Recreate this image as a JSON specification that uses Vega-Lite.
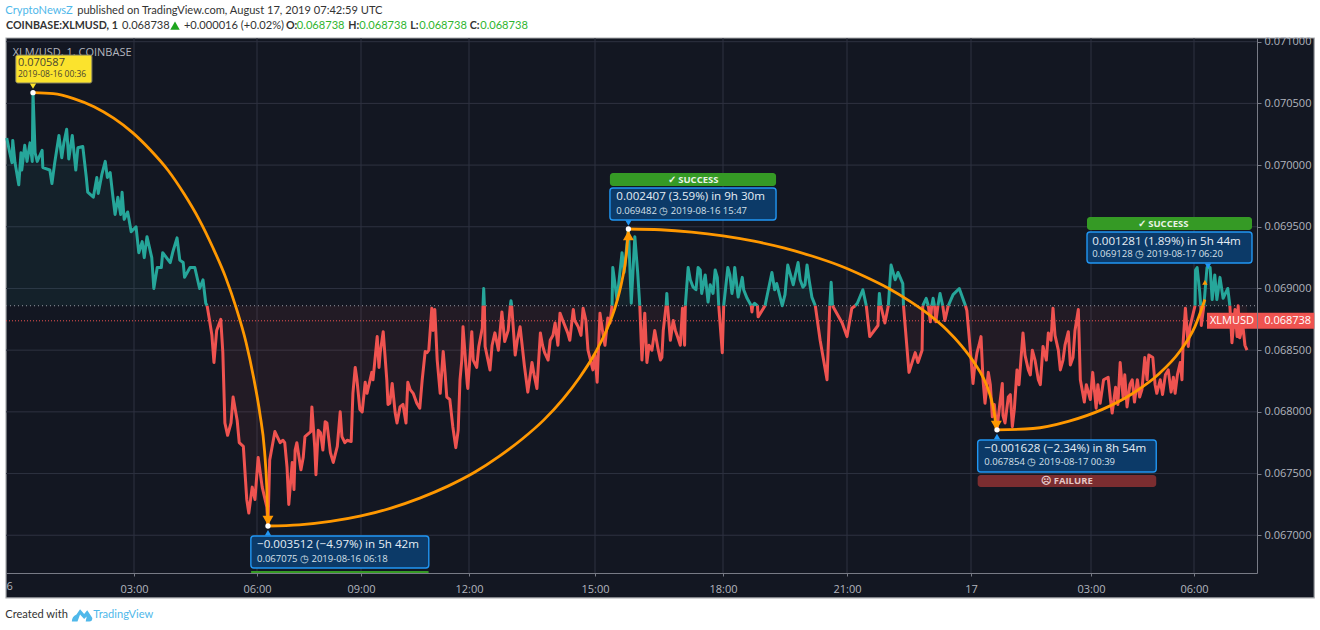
{
  "$schema": "https://vega.github.io/schema/vega-lite/v6.json",
  "width": 1251,
  "height": 535,
  "autosize": {"type": "none"},
  "padding": {"left": 6, "top": 38, "right": 63, "bottom": 57},
  "background": "#ffffff",
  "config": {"font": "Open Sans", "view": {"stroke": null}},
  "datasets": {
    "rects": [
      {"kind": "panel", "m": 0, "m2": 2023, "p": 0.066492, "p2": 0.07103},
      {"kind": "yellow", "m": 13, "m2": 120, "p": 0.070665, "p2": 0.070892},
      {"kind": "blue", "m": 351, "m2": 653, "p": 0.066735, "p2": 0.066994},
      {"kind": "blue", "m": 921, "m2": 1157, "p": 0.069555, "p2": 0.069814},
      {"kind": "blue", "m": 1450, "m2": 1734, "p": 0.067513, "p2": 0.067772},
      {"kind": "blue", "m": 1614, "m2": 1911, "p": 0.069207, "p2": 0.069458},
      {"kind": "green", "m": 351, "m2": 653, "p": 0.066694, "p2": 0.066711},
      {"kind": "green", "m": 921, "m2": 1157, "p": 0.069831, "p2": 0.069936},
      {"kind": "green", "m": 1614, "m2": 1911, "p": 0.069474, "p2": 0.069579},
      {"kind": "fail", "m": 1450, "m2": 1734, "p": 0.067391, "p2": 0.067489},
      {"kind": "tag", "m": 1825, "m2": 2023, "p": 0.068673, "p2": 0.068803}
    ],
    "gridx": [
      {"m": 180, "p": 0.066694, "p2": 0.07103}, {"m": 360, "p": 0.066694, "p2": 0.07103},
      {"m": 540, "p": 0.066694, "p2": 0.07103}, {"m": 720, "p": 0.066694, "p2": 0.07103},
      {"m": 900, "p": 0.066694, "p2": 0.07103}, {"m": 1080, "p": 0.066694, "p2": 0.07103},
      {"m": 1260, "p": 0.066694, "p2": 0.07103}, {"m": 1440, "p": 0.066694, "p2": 0.07103},
      {"m": 1620, "p": 0.066694, "p2": 0.07103}, {"m": 1800, "p": 0.066694, "p2": 0.07103}
    ],
    "gridy": [
      {"m": 0, "m2": 1920, "p": 0.067}, {"m": 0, "m2": 1920, "p": 0.0675},
      {"m": 0, "m2": 1920, "p": 0.068}, {"m": 0, "m2": 1920, "p": 0.0685},
      {"m": 0, "m2": 1920, "p": 0.069}, {"m": 0, "m2": 1920, "p": 0.0695},
      {"m": 0, "m2": 1920, "p": 0.07}, {"m": 0, "m2": 1920, "p": 0.0705},
      {"m": 0, "m2": 1920, "p": 0.071}
    ],
    "up": [
      {"m":1,"p":0.07022,"s":1},{"m":5,"p":0.0701,"s":1},{"m":8,"p":0.07002,"s":1},{"m":9,"p":0.0702,"s":1},{"m":12,"p":0.07002,"s":1},{"m":17,"p":0.06984,"s":1},{"m":20,"p":0.0701,"s":1},{"m":21,"p":0.06996,"s":1},{"m":25,"p":0.07016,"s":1},{"m":28,"p":0.07003,"s":1},{"m":32,"p":0.07018,"s":1},{"m":35,"p":0.07003,"s":1},{"m":36,"p":0.07059,"s":1},{"m":39,"p":0.0701,"s":1},{"m":42,"p":0.07003,"s":1},{"m":49,"p":0.07012,"s":1},{"m":50,"p":0.06998,"s":1},{"m":60,"p":0.06996,"s":1},{"m":63,"p":0.06985,"s":1},{"m":67,"p":0.07002,"s":1},{"m":73,"p":0.07024,"s":1},{"m":77,"p":0.07006,"s":1},{"m":80,"p":0.07018,"s":1},{"m":84,"p":0.07029,"s":1},{"m":87,"p":0.07005,"s":1},{"m":92,"p":0.07024,"s":1},{"m":97,"p":0.06996,"s":1},{"m":100,"p":0.07014,"s":1},{"m":107,"p":0.07015,"s":1},{"m":112,"p":0.0699,"s":1},{"m":114,"p":0.06978,"s":1},{"m":122,"p":0.06974,"s":1},{"m":127,"p":0.0699,"s":1},{"m":129,"p":0.06977,"s":1},{"m":134,"p":0.06992,"s":1},{"m":139,"p":0.07003,"s":1},{"m":142,"p":0.0699,"s":1},{"m":146,"p":0.06994,"s":1},{"m":150,"p":0.06974,"s":1},{"m":153,"p":0.0696,"s":1},{"m":157,"p":0.06974,"s":1},{"m":161,"p":0.0696,"s":1},{"m":163,"p":0.06978,"s":1},{"m":166,"p":0.06956,"s":1},{"m":171,"p":0.06962,"s":1},{"m":176,"p":0.06946,"s":1},{"m":183,"p":0.0695,"s":1},{"m":187,"p":0.06929,"s":1},{"m":192,"p":0.06938,"s":1},{"m":195,"p":0.06925,"s":1},{"m":199,"p":0.06942,"s":1},{"m":206,"p":0.06925,"s":1},{"m":209,"p":0.069,"s":1},{"m":214,"p":0.06917,"s":1},{"m":220,"p":0.06917,"s":1},{"m":222,"p":0.06929,"s":1},{"m":233,"p":0.06921,"s":1},{"m":237,"p":0.0693,"s":1},{"m":243,"p":0.06941,"s":1},{"m":247,"p":0.06923,"s":1},{"m":252,"p":0.06921,"s":1},{"m":254,"p":0.06909,"s":1},{"m":262,"p":0.06917,"s":1},{"m":269,"p":0.06917,"s":1},{"m":276,"p":0.069,"s":1},{"m":281,"p":0.06907,"s":1},{"m":285,"p":0.06888,"s":1},{"m":287,"p":0.06886,"s":1},
      {"m":740,"p":0.06886,"s":3},{"m":741,"p":0.069,"s":3},{"m":742,"p":0.06886,"s":3},
      {"m":779,"p":0.06886,"s":5},{"m":780,"p":0.0689,"s":5},{"m":781,"p":0.06886,"s":5},
      {"m":924,"p":0.06886,"s":7},{"m":925,"p":0.06917,"s":7},{"m":931,"p":0.06891,"s":7},{"m":938,"p":0.06929,"s":7},{"m":941,"p":0.06913,"s":7},{"m":947,"p":0.06948,"s":7},{"m":951,"p":0.06888,"s":7},{"m":956,"p":0.06942,"s":7},{"m":960,"p":0.06913,"s":7},{"m":963,"p":0.06886,"s":7},
      {"m":1000,"p":0.06886,"s":9},{"m":1001,"p":0.06896,"s":9},{"m":1002,"p":0.06886,"s":9},
      {"m":1027,"p":0.06886,"s":11},{"m":1031,"p":0.06917,"s":11},{"m":1034,"p":0.06907,"s":11},{"m":1038,"p":0.06901,"s":11},{"m":1042,"p":0.06899,"s":11},{"m":1045,"p":0.06917,"s":11},{"m":1048,"p":0.06915,"s":11},{"m":1050,"p":0.06896,"s":11},{"m":1055,"p":0.06911,"s":11},{"m":1059,"p":0.06889,"s":11},{"m":1062,"p":0.06903,"s":11},{"m":1066,"p":0.06896,"s":11},{"m":1069,"p":0.06915,"s":11},{"m":1072,"p":0.06909,"s":11},{"m":1074,"p":0.06886,"s":11},
      {"m":1081,"p":0.06886,"s":13},{"m":1087,"p":0.06917,"s":13},{"m":1090,"p":0.06911,"s":13},{"m":1093,"p":0.06896,"s":13},{"m":1095,"p":0.06903,"s":13},{"m":1097,"p":0.06917,"s":13},{"m":1102,"p":0.06893,"s":13},{"m":1108,"p":0.06909,"s":13},{"m":1110,"p":0.06899,"s":13},{"m":1115,"p":0.06892,"s":13},{"m":1121,"p":0.06886,"s":13},
      {"m":1123,"p":0.06886,"s":15},{"m":1126,"p":0.06888,"s":15},{"m":1130,"p":0.06886,"s":15},
      {"m":1141,"p":0.06886,"s":17},{"m":1151,"p":0.06913,"s":17},{"m":1155,"p":0.06899,"s":17},{"m":1158,"p":0.06904,"s":17},{"m":1166,"p":0.06886,"s":17},{"m":1170,"p":0.06895,"s":17},{"m":1174,"p":0.06919,"s":17},{"m":1182,"p":0.06903,"s":17},{"m":1185,"p":0.06911,"s":17},{"m":1189,"p":0.06921,"s":17},{"m":1192,"p":0.06907,"s":17},{"m":1196,"p":0.06901,"s":17},{"m":1199,"p":0.06903,"s":17},{"m":1202,"p":0.06919,"s":17},{"m":1205,"p":0.06907,"s":17},{"m":1209,"p":0.06893,"s":17},{"m":1214,"p":0.06886,"s":17},
      {"m":1235,"p":0.06886,"s":19},{"m":1237,"p":0.06905,"s":19},{"m":1239,"p":0.06886,"s":19},
      {"m":1272,"p":0.06886,"s":21},{"m":1275,"p":0.06888,"s":21},{"m":1283,"p":0.06899,"s":21},{"m":1288,"p":0.06886,"s":21},
      {"m":1306,"p":0.06886,"s":23},{"m":1307,"p":0.06896,"s":23},{"m":1309,"p":0.06886,"s":23},
      {"m":1320,"p":0.06886,"s":25},{"m":1324,"p":0.06919,"s":25},{"m":1330,"p":0.06907,"s":25},{"m":1334,"p":0.06913,"s":25},{"m":1341,"p":0.06904,"s":25},{"m":1342,"p":0.06886,"s":25},
      {"m":1370,"p":0.06886,"s":27},{"m":1375,"p":0.06892,"s":27},{"m":1378,"p":0.06886,"s":27},
      {"m":1383,"p":0.06886,"s":29},{"m":1385,"p":0.06892,"s":29},{"m":1387,"p":0.06886,"s":29},
      {"m":1392,"p":0.06886,"s":31},{"m":1395,"p":0.06896,"s":31},{"m":1399,"p":0.06886,"s":31},
      {"m":1407,"p":0.06886,"s":33},{"m":1414,"p":0.06895,"s":33},{"m":1423,"p":0.069,"s":33},{"m":1432,"p":0.06886,"s":33},
      {"m":1802,"p":0.06886,"s":35},{"m":1803,"p":0.06915,"s":35},{"m":1806,"p":0.06917,"s":35},{"m":1811,"p":0.06897,"s":35},{"m":1813,"p":0.06886,"s":35},
      {"m":1819,"p":0.06886,"s":37},{"m":1825,"p":0.06917,"s":37},{"m":1831,"p":0.06917,"s":37},{"m":1835,"p":0.06891,"s":37},{"m":1840,"p":0.06911,"s":37},{"m":1844,"p":0.06891,"s":37},{"m":1850,"p":0.06909,"s":37},{"m":1856,"p":0.06892,"s":37},{"m":1865,"p":0.069,"s":37},{"m":1869,"p":0.06886,"s":37}
    ],
    "down": [
      {"m":287,"p":0.06886,"s":2},{"m":290,"p":0.06876,"s":2},{"m":294,"p":0.06862,"s":2},{"m":297,"p":0.0684,"s":2},{"m":301,"p":0.06866,"s":2},{"m":307,"p":0.06875,"s":2},{"m":310,"p":0.06848,"s":2},{"m":313,"p":0.06791,"s":2},{"m":317,"p":0.06781,"s":2},{"m":322,"p":0.06791,"s":2},{"m":325,"p":0.06812,"s":2},{"m":331,"p":0.06793,"s":2},{"m":334,"p":0.06775,"s":2},{"m":340,"p":0.06772,"s":2},{"m":345,"p":0.06729,"s":2},{"m":348,"p":0.06718,"s":2},{"m":353,"p":0.06739,"s":2},{"m":357,"p":0.06729,"s":2},{"m":362,"p":0.06763,"s":2},{"m":369,"p":0.06739,"s":2},{"m":377,"p":0.06723,"s":2},{"m":379,"p":0.06708,"s":2},{"m":382,"p":0.06761,"s":2},{"m":391,"p":0.06784,"s":2},{"m":395,"p":0.0678,"s":2},{"m":400,"p":0.06775,"s":2},{"m":405,"p":0.06777,"s":2},{"m":408,"p":0.06775,"s":2},{"m":412,"p":0.06755,"s":2},{"m":415,"p":0.06725,"s":2},{"m":421,"p":0.06759,"s":2},{"m":424,"p":0.06737,"s":2},{"m":426,"p":0.06769,"s":2},{"m":429,"p":0.06775,"s":2},{"m":436,"p":0.06753,"s":2},{"m":440,"p":0.06763,"s":2},{"m":443,"p":0.0678,"s":2},{"m":453,"p":0.06784,"s":2},{"m":455,"p":0.06804,"s":2},{"m":460,"p":0.06771,"s":2},{"m":462,"p":0.06749,"s":2},{"m":466,"p":0.06785,"s":2},{"m":470,"p":0.06783,"s":2},{"m":474,"p":0.06769,"s":2},{"m":478,"p":0.06792,"s":2},{"m":481,"p":0.06791,"s":2},{"m":487,"p":0.06767,"s":2},{"m":492,"p":0.06759,"s":2},{"m":499,"p":0.06772,"s":2},{"m":504,"p":0.068,"s":2},{"m":507,"p":0.0678,"s":2},{"m":512,"p":0.06775,"s":2},{"m":516,"p":0.06777,"s":2},{"m":523,"p":0.06776,"s":2},{"m":526,"p":0.06815,"s":2},{"m":530,"p":0.06836,"s":2},{"m":533,"p":0.06826,"s":2},{"m":538,"p":0.06802,"s":2},{"m":542,"p":0.068,"s":2},{"m":547,"p":0.06824,"s":2},{"m":550,"p":0.06815,"s":2},{"m":558,"p":0.06832,"s":2},{"m":560,"p":0.06826,"s":2},{"m":567,"p":0.06861,"s":2},{"m":570,"p":0.06836,"s":2},{"m":572,"p":0.06848,"s":2},{"m":577,"p":0.06865,"s":2},{"m":583,"p":0.06826,"s":2},{"m":585,"p":0.06806,"s":2},{"m":588,"p":0.06807,"s":2},{"m":592,"p":0.06823,"s":2},{"m":597,"p":0.06799,"s":2},{"m":600,"p":0.06791,"s":2},{"m":605,"p":0.06804,"s":2},{"m":610,"p":0.06806,"s":2},{"m":615,"p":0.06791,"s":2},{"m":618,"p":0.06824,"s":2},{"m":622,"p":0.06818,"s":2},{"m":627,"p":0.06815,"s":2},{"m":633,"p":0.06807,"s":2},{"m":638,"p":0.06803,"s":2},{"m":642,"p":0.06826,"s":2},{"m":647,"p":0.06849,"s":2},{"m":650,"p":0.06848,"s":2},{"m":653,"p":0.0685,"s":2},{"m":658,"p":0.06884,"s":2},{"m":660,"p":0.06866,"s":2},{"m":663,"p":0.06883,"s":2},{"m":667,"p":0.06842,"s":2},{"m":672,"p":0.06815,"s":2},{"m":677,"p":0.06849,"s":2},{"m":680,"p":0.06832,"s":2},{"m":683,"p":0.06812,"s":2},{"m":688,"p":0.0681,"s":2},{"m":693,"p":0.06788,"s":2},{"m":698,"p":0.06771,"s":2},{"m":702,"p":0.06785,"s":2},{"m":705,"p":0.06826,"s":2},{"m":708,"p":0.06842,"s":2},{"m":710,"p":0.06869,"s":2},{"m":717,"p":0.06823,"s":2},{"m":718,"p":0.06819,"s":2},{"m":724,"p":0.06865,"s":2},{"m":726,"p":0.06842,"s":2},{"m":731,"p":0.06836,"s":2},{"m":734,"p":0.06853,"s":2},{"m":739,"p":0.06868,"s":2},{"m":740,"p":0.06886,"s":2},
      {"m":742,"p":0.06886,"s":4},{"m":743,"p":0.06853,"s":4},{"m":750,"p":0.06834,"s":4},{"m":753,"p":0.06854,"s":4},{"m":757,"p":0.06864,"s":4},{"m":762,"p":0.0685,"s":4},{"m":767,"p":0.06881,"s":4},{"m":771,"p":0.06857,"s":4},{"m":776,"p":0.06866,"s":4},{"m":779,"p":0.06886,"s":4},
      {"m":781,"p":0.06886,"s":6},{"m":786,"p":0.06846,"s":6},{"m":789,"p":0.06858,"s":6},{"m":793,"p":0.06869,"s":6},{"m":799,"p":0.06838,"s":6},{"m":804,"p":0.06816,"s":6},{"m":810,"p":0.0684,"s":6},{"m":813,"p":0.0683,"s":6},{"m":817,"p":0.06819,"s":6},{"m":822,"p":0.06864,"s":6},{"m":825,"p":0.06854,"s":6},{"m":828,"p":0.06848,"s":6},{"m":833,"p":0.06842,"s":6},{"m":836,"p":0.06858,"s":6},{"m":840,"p":0.06862,"s":6},{"m":843,"p":0.06872,"s":6},{"m":847,"p":0.06854,"s":6},{"m":850,"p":0.0688,"s":6},{"m":854,"p":0.06874,"s":6},{"m":861,"p":0.06864,"s":6},{"m":864,"p":0.06858,"s":6},{"m":869,"p":0.06883,"s":6},{"m":871,"p":0.06874,"s":6},{"m":876,"p":0.06869,"s":6},{"m":880,"p":0.06862,"s":6},{"m":883,"p":0.06884,"s":6},{"m":887,"p":0.06874,"s":6},{"m":890,"p":0.0685,"s":6},{"m":897,"p":0.06834,"s":6},{"m":900,"p":0.06846,"s":6},{"m":903,"p":0.06824,"s":6},{"m":907,"p":0.0688,"s":6},{"m":911,"p":0.06864,"s":6},{"m":914,"p":0.06854,"s":6},{"m":918,"p":0.06876,"s":6},{"m":921,"p":0.06872,"s":6},{"m":924,"p":0.06886,"s":6},
      {"m":963,"p":0.06886,"s":8},{"m":966,"p":0.06842,"s":8},{"m":970,"p":0.0688,"s":8},{"m":973,"p":0.0684,"s":8},{"m":976,"p":0.06854,"s":8},{"m":980,"p":0.0685,"s":8},{"m":984,"p":0.06866,"s":8},{"m":989,"p":0.0685,"s":8},{"m":992,"p":0.06842,"s":8},{"m":994,"p":0.06844,"s":8},{"m":996,"p":0.06866,"s":8},{"m":1000,"p":0.06886,"s":8},
      {"m":1002,"p":0.06886,"s":10},{"m":1006,"p":0.06858,"s":10},{"m":1010,"p":0.06874,"s":10},{"m":1013,"p":0.06866,"s":10},{"m":1016,"p":0.06861,"s":10},{"m":1020,"p":0.06854,"s":10},{"m":1023,"p":0.06884,"s":10},{"m":1026,"p":0.06854,"s":10},{"m":1027,"p":0.06886,"s":10},
      {"m":1074,"p":0.06886,"s":12},{"m":1079,"p":0.06848,"s":12},{"m":1081,"p":0.06886,"s":12},
      {"m":1121,"p":0.06886,"s":14},{"m":1122,"p":0.06881,"s":14},{"m":1123,"p":0.06886,"s":14},
      {"m":1130,"p":0.06886,"s":16},{"m":1131,"p":0.06877,"s":16},{"m":1141,"p":0.06886,"s":16},
      {"m":1214,"p":0.06886,"s":18},{"m":1221,"p":0.06858,"s":18},{"m":1231,"p":0.06826,"s":18},{"m":1235,"p":0.06886,"s":18},
      {"m":1239,"p":0.06886,"s":20},{"m":1253,"p":0.06872,"s":20},{"m":1260,"p":0.06861,"s":20},{"m":1267,"p":0.06884,"s":20},{"m":1272,"p":0.06886,"s":20},
      {"m":1288,"p":0.06886,"s":22},{"m":1293,"p":0.06861,"s":22},{"m":1305,"p":0.0687,"s":22},{"m":1306,"p":0.06886,"s":22},
      {"m":1309,"p":0.06886,"s":24},{"m":1315,"p":0.06872,"s":24},{"m":1320,"p":0.06886,"s":24},
      {"m":1342,"p":0.06886,"s":26},{"m":1350,"p":0.06832,"s":26},{"m":1359,"p":0.06848,"s":26},{"m":1363,"p":0.0684,"s":26},{"m":1369,"p":0.0685,"s":26},{"m":1370,"p":0.06886,"s":26},
      {"m":1378,"p":0.06886,"s":28},{"m":1381,"p":0.06873,"s":28},{"m":1383,"p":0.06886,"s":28},
      {"m":1387,"p":0.06886,"s":30},{"m":1389,"p":0.06873,"s":30},{"m":1392,"p":0.06886,"s":30},
      {"m":1399,"p":0.06886,"s":32},{"m":1402,"p":0.06874,"s":32},{"m":1407,"p":0.06886,"s":32},
      {"m":1432,"p":0.06886,"s":34},{"m":1434,"p":0.06882,"s":34},{"m":1439,"p":0.0685,"s":34},{"m":1443,"p":0.06823,"s":34},{"m":1445,"p":0.06834,"s":34},{"m":1449,"p":0.06848,"s":34},{"m":1452,"p":0.06854,"s":34},{"m":1455,"p":0.06861,"s":34},{"m":1458,"p":0.06826,"s":34},{"m":1461,"p":0.06807,"s":34},{"m":1466,"p":0.06832,"s":34},{"m":1469,"p":0.06822,"s":34},{"m":1472,"p":0.06796,"s":34},{"m":1475,"p":0.06806,"s":34},{"m":1479,"p":0.06785,"s":34},{"m":1481,"p":0.06796,"s":34},{"m":1484,"p":0.0681,"s":34},{"m":1487,"p":0.06823,"s":34},{"m":1488,"p":0.06797,"s":34},{"m":1491,"p":0.06791,"s":34},{"m":1496,"p":0.06812,"s":34},{"m":1499,"p":0.06814,"s":34},{"m":1502,"p":0.06788,"s":34},{"m":1505,"p":0.06802,"s":34},{"m":1509,"p":0.06834,"s":34},{"m":1512,"p":0.06822,"s":34},{"m":1514,"p":0.06836,"s":34},{"m":1518,"p":0.06864,"s":34},{"m":1521,"p":0.06846,"s":34},{"m":1526,"p":0.06834,"s":34},{"m":1529,"p":0.0683,"s":34},{"m":1532,"p":0.0685,"s":34},{"m":1536,"p":0.06842,"s":34},{"m":1541,"p":0.06826,"s":34},{"m":1544,"p":0.06822,"s":34},{"m":1548,"p":0.06853,"s":34},{"m":1553,"p":0.06842,"s":34},{"m":1556,"p":0.06864,"s":34},{"m":1560,"p":0.06858,"s":34},{"m":1563,"p":0.06884,"s":34},{"m":1566,"p":0.06862,"s":34},{"m":1571,"p":0.0685,"s":34},{"m":1574,"p":0.06834,"s":34},{"m":1578,"p":0.06842,"s":34},{"m":1581,"p":0.06854,"s":34},{"m":1586,"p":0.06865,"s":34},{"m":1589,"p":0.06838,"s":34},{"m":1593,"p":0.06844,"s":34},{"m":1596,"p":0.06866,"s":34},{"m":1601,"p":0.06883,"s":34},{"m":1604,"p":0.06826,"s":34},{"m":1610,"p":0.06808,"s":34},{"m":1613,"p":0.06822,"s":34},{"m":1619,"p":0.0681,"s":34},{"m":1623,"p":0.06832,"s":34},{"m":1629,"p":0.06803,"s":34},{"m":1632,"p":0.06822,"s":34},{"m":1636,"p":0.06807,"s":34},{"m":1642,"p":0.06826,"s":34},{"m":1650,"p":0.06828,"s":34},{"m":1654,"p":0.0681,"s":34},{"m":1657,"p":0.06799,"s":34},{"m":1663,"p":0.0682,"s":34},{"m":1667,"p":0.06806,"s":34},{"m":1671,"p":0.0684,"s":34},{"m":1676,"p":0.06812,"s":34},{"m":1679,"p":0.0683,"s":34},{"m":1683,"p":0.06804,"s":34},{"m":1688,"p":0.06822,"s":34},{"m":1692,"p":0.06826,"s":34},{"m":1696,"p":0.06808,"s":34},{"m":1701,"p":0.06826,"s":34},{"m":1705,"p":0.06812,"s":34},{"m":1709,"p":0.06818,"s":34},{"m":1714,"p":0.06844,"s":34},{"m":1718,"p":0.06826,"s":34},{"m":1721,"p":0.06846,"s":34},{"m":1728,"p":0.06844,"s":34},{"m":1732,"p":0.06822,"s":34},{"m":1735,"p":0.06815,"s":34},{"m":1741,"p":0.06826,"s":34},{"m":1745,"p":0.06814,"s":34},{"m":1750,"p":0.0683,"s":34},{"m":1755,"p":0.06834,"s":34},{"m":1760,"p":0.06816,"s":34},{"m":1764,"p":0.06828,"s":34},{"m":1767,"p":0.06815,"s":34},{"m":1771,"p":0.0683,"s":34},{"m":1776,"p":0.0684,"s":34},{"m":1779,"p":0.06826,"s":34},{"m":1781,"p":0.06856,"s":34},{"m":1785,"p":0.06884,"s":34},{"m":1790,"p":0.06853,"s":34},{"m":1793,"p":0.06869,"s":34},{"m":1802,"p":0.06886,"s":34},
      {"m":1813,"p":0.06886,"s":36},{"m":1814,"p":0.0687,"s":36},{"m":1819,"p":0.06886,"s":36},
      {"m":1869,"p":0.06886,"s":38},{"m":1873,"p":0.06856,"s":38},{"m":1879,"p":0.06883,"s":38},{"m":1883,"p":0.06861,"s":38},{"m":1885,"p":0.06886,"s":38},{"m":1888,"p":0.0686,"s":38},{"m":1894,"p":0.0687,"s":38},{"m":1898,"p":0.06854,"s":38},{"m":1902,"p":0.0685,"s":38}
    ],
    "arcs": [
      {"m":36,"p":0.070587,"leg":1},{"m":65,"p":0.070579,"leg":1},{"m":94,"p":0.070539,"leg":1},{"m":123,"p":0.070473,"leg":1},{"m":151,"p":0.07038,"leg":1},{"m":178,"p":0.070263,"leg":1},{"m":204,"p":0.070122,"leg":1},{"m":230,"p":0.069956,"leg":1},{"m":253,"p":0.069769,"leg":1},{"m":275,"p":0.069562,"leg":1},{"m":295,"p":0.069336,"leg":1},{"m":314,"p":0.069092,"leg":1},{"m":330,"p":0.068834,"leg":1},{"m":344,"p":0.068562,"leg":1},{"m":355,"p":0.068278,"leg":1},{"m":365,"p":0.067985,"leg":1},{"m":373,"p":0.067686,"leg":1},{"m":377,"p":0.067382,"leg":1},{"m":379,"p":0.067075,"leg":1},
      {"m":379,"p":0.067075,"leg":2},{"m":433,"p":0.067084,"leg":2},{"m":487,"p":0.067112,"leg":2},{"m":540,"p":0.067157,"leg":2},{"m":590,"p":0.06722,"leg":2},{"m":638,"p":0.067301,"leg":2},{"m":685,"p":0.067398,"leg":2},{"m":728,"p":0.06751,"leg":2},{"m":763,"p":0.067639,"leg":2},{"m":796,"p":0.06778,"leg":2},{"m":827,"p":0.067935,"leg":2},{"m":854,"p":0.068101,"leg":2},{"m":878,"p":0.068279,"leg":2},{"m":899,"p":0.068465,"leg":2},{"m":916,"p":0.068659,"leg":2},{"m":929,"p":0.068859,"leg":2},{"m":938,"p":0.069064,"leg":2},{"m":944,"p":0.069272,"leg":2},{"m":947,"p":0.069482,"leg":2},
      {"m":947,"p":0.069482,"leg":3},{"m":992,"p":0.069476,"leg":3},{"m":1036,"p":0.069457,"leg":3},{"m":1080,"p":0.069426,"leg":3},{"m":1125,"p":0.069383,"leg":3},{"m":1168,"p":0.069329,"leg":3},{"m":1209,"p":0.069263,"leg":3},{"m":1249,"p":0.069186,"leg":3},{"m":1285,"p":0.069099,"leg":3},{"m":1320,"p":0.069002,"leg":3},{"m":1351,"p":0.068897,"leg":3},{"m":1380,"p":0.068784,"leg":3},{"m":1405,"p":0.068664,"leg":3},{"m":1426,"p":0.068537,"leg":3},{"m":1444,"p":0.068405,"leg":3},{"m":1459,"p":0.068269,"leg":3},{"m":1469,"p":0.06813,"leg":3},{"m":1475,"p":0.067988,"leg":3},{"m":1478,"p":0.067854,"leg":3},
      {"m":1478,"p":0.067854,"leg":4},{"m":1533,"p":0.067865,"leg":4},{"m":1586,"p":0.067923,"leg":4},{"m":1639,"p":0.068018,"leg":4},{"m":1692,"p":0.068147,"leg":4},{"m":1738,"p":0.068305,"leg":4},{"m":1775,"p":0.068489,"leg":4},{"m":1802,"p":0.068693,"leg":4},{"m":1821,"p":0.06891,"leg":4}
    ],
    "marks": [
      {"kind": "arrow-down", "m": 379, "p": 0.06712},
      {"kind": "arrow-down", "m": 1478, "p": 0.06789},
      {"kind": "arrow-up", "m": 947, "p": 0.06943},
      {"kind": "arrow-up-small", "m": 1821, "p": 0.06905},
      {"kind": "dot", "m": 36, "p": 0.070587},
      {"kind": "dot", "m": 379, "p": 0.067075},
      {"kind": "dot", "m": 947, "p": 0.069482},
      {"kind": "dot", "m": 1479, "p": 0.067854},
      {"kind": "pointer-up", "m": 379, "p": 0.06702},
      {"kind": "pointer-up", "m": 1479, "p": 0.0678},
      {"kind": "pointer-down", "m": 947, "p": 0.06953},
      {"kind": "pointer-down", "m": 1827, "p": 0.06918},
      {"kind": "pointer-yellow", "m": 36, "p": 0.07064}
    ],
    "levels": [
      {"kind": "baseline", "m": 0, "m2": 1920, "p": 0.06886},
      {"kind": "last", "m": 0, "m2": 1920, "p": 0.068738}
    ],
    "labels": [
      {"kind": "watermark", "m": 9, "p": 0.07091, "text": "XLM/USD, 1, COINBASE"},
      {"kind": "yellow-big", "m": 16, "p": 0.07083, "text": "0.070587"},
      {"kind": "yellow-small", "m": 16, "p": 0.07074, "text": "2019-08-16 00:36"},
      {"kind": "big", "m": 360, "p": 0.06692, "text": "−0.003512 (−4.97%) in 5h 42m"},
      {"kind": "small", "m": 360, "p": 0.06681, "text": "0.067075 ◷ 2019-08-16  06:18"},
      {"kind": "big", "m": 930, "p": 0.06974, "text": "0.002407 (3.59%) in 9h 30m"},
      {"kind": "small", "m": 930, "p": 0.06963, "text": "0.069482 ◷ 2019-08-16  15:47"},
      {"kind": "big", "m": 1460, "p": 0.0677, "text": "−0.001628 (−2.34%) in 8h 54m"},
      {"kind": "small", "m": 1460, "p": 0.06759, "text": "0.067854 ◷ 2019-08-17  00:39"},
      {"kind": "big", "m": 1622, "p": 0.06938, "text": "0.001281 (1.89%) in 5h 44m"},
      {"kind": "small", "m": 1622, "p": 0.06928, "text": "0.069128 ◷ 2019-08-17  06:20"},
      {"kind": "status", "m": 1038, "p": 0.06988, "text": "✓ SUCCESS"},
      {"kind": "status", "m": 1746, "p": 0.06952, "text": "✓ SUCCESS"},
      {"kind": "status-fail", "m": 1584, "p": 0.06744, "text": "☹ FAILURE"},
      {"kind": "tag-name", "m": 1873, "p": 0.06874, "text": "XLMUSD"},
      {"kind": "tag-price", "m": 1933, "p": 0.06874, "text": "0.068738"},
      {"kind": "axis-first", "m": 5, "p": 0.06658, "text": "6"},
      {"kind": "head-blue", "m": -1, "p": 0.07125, "text": "CryptoNewsZ"},
      {"kind": "head", "m": 99, "p": 0.07125, "text": "published on TradingView.com, August 17, 2019 07:42:59 UTC"},
      {"kind": "head-bold", "m": 0, "p": 0.07113, "text": "COINBASE:XLMUSD, 1"},
      {"kind": "head", "m": 163, "p": 0.07113, "text": "0.068738"},
      {"kind": "head", "m": 253, "p": 0.07113, "text": "+0.000016 (+0.02%)"},
      {"kind": "head-bold", "m": 410, "p": 0.07113, "text": "O:"},
      {"kind": "head-green", "m": 429, "p": 0.07113, "text": "0.068738"},
      {"kind": "head-bold", "m": 518, "p": 0.07113, "text": "H:"},
      {"kind": "head-green", "m": 537, "p": 0.07113, "text": "0.068738"},
      {"kind": "head-bold", "m": 622, "p": 0.07113, "text": "L:"},
      {"kind": "head-green", "m": 637, "p": 0.07113, "text": "0.068738"},
      {"kind": "head-bold", "m": 721, "p": 0.07113, "text": "C:"},
      {"kind": "head-green", "m": 736, "p": 0.07113, "text": "0.068738"},
      {"kind": "head", "m": -1, "p": 0.06635, "text": "Created with"},
      {"kind": "head-blue", "m": 122, "p": 0.06635, "text": "TradingView"}
    ],
    "logo": [{"m": 106, "p": 0.06635}],
    "headTriangle": [{"m": 240, "p": 0.07113}]
  },
  "encoding": {
    "x": {
      "field": "m",
      "type": "quantitative",
      "title": null,
      "scale": {
        "domain": [0, 36, 180, 360, 540, 720, 900, 1080, 1260, 1440, 1620, 1800, 1902, 1920],
        "range": [0, 27, 128, 251, 355, 463, 589, 717, 841, 965, 1085, 1188, 1241, 1251],
        "nice": false,
        "zero": false
      },
      "axis": {
        "zindex": 1,
        "grid": false,
        "values": [180, 360, 540, 720, 900, 1080, 1260, 1440, 1620, 1800],
        "labelExpr": "datum.value == 1440 ? '17' : utcFormat(datum.value * 60000, '%H:%M')",
        "labelColor": "#b2b5be",
        "labelFontSize": 11,
        "labelPadding": 7,
        "labelFlush": false,
        "labelOverlap": false,
        "tickSize": 3,
        "tickColor": "#787b86",
        "domainColor": "#787b86"
      }
    },
    "y": {
      "field": "p",
      "type": "quantitative",
      "title": null,
      "scale": {"domain": [0.066694, 0.07103], "nice": false, "zero": false},
      "axis": {
        "orient": "right",
        "zindex": 1,
        "grid": false,
        "values": [0.067, 0.0675, 0.068, 0.0685, 0.069, 0.0695, 0.07, 0.0705, 0.071],
        "format": ".6f",
        "labelColor": "#b2b5be",
        "labelFontSize": 11,
        "labelPadding": 3,
        "labelFlush": false,
        "labelOverlap": false,
        "tickSize": 4,
        "tickColor": "#787b86",
        "domainColor": "#787b86"
      }
    }
  },
  "layer": [
    {
      "data": {"name": "rects"},
      "transform": [{"filter": "datum.kind == 'panel'"}],
      "mark": {"type": "rect", "color": "#131722", "stroke": "#a9abae", "strokeWidth": 1.2},
      "encoding": {"x2": {"field": "m2"}, "y2": {"field": "p2"}}
    },
    {
      "data": {"name": "gridx"},
      "mark": {"type": "rule", "color": "#2e3240", "strokeWidth": 1},
      "encoding": {"y2": {"field": "p2"}}
    },
    {
      "data": {"name": "gridy"},
      "mark": {"type": "rule", "color": "#2e3240", "strokeWidth": 1},
      "encoding": {"x2": {"field": "m2"}}
    },
    {
      "data": {"name": "up"},
      "mark": {"type": "area", "color": "#26a69a", "opacity": 0.07},
      "encoding": {"y2": {"datum": 0.06886}, "detail": {"field": "s"}}
    },
    {
      "data": {"name": "down"},
      "mark": {"type": "area", "color": "#ef5350", "opacity": 0.07},
      "encoding": {"y2": {"datum": 0.06886}, "detail": {"field": "s"}}
    },
    {
      "data": {"name": "levels"},
      "transform": [{"filter": "datum.kind == 'baseline'"}],
      "mark": {"type": "rule", "color": "#9598a1", "strokeWidth": 1, "strokeDash": [1, 3]},
      "encoding": {"x2": {"field": "m2"}}
    },
    {
      "data": {"name": "levels"},
      "transform": [{"filter": "datum.kind == 'last'"}],
      "mark": {"type": "rule", "color": "#ef5350", "strokeWidth": 1, "strokeDash": [1, 2]},
      "encoding": {"x2": {"field": "m2"}}
    },
    {
      "data": {"name": "up"},
      "mark": {"type": "line", "color": "#26a69a", "strokeWidth": 3, "strokeJoin": "round"},
      "encoding": {"detail": {"field": "s"}}
    },
    {
      "data": {"name": "down"},
      "mark": {"type": "line", "color": "#ef5350", "strokeWidth": 3, "strokeJoin": "round"},
      "encoding": {"detail": {"field": "s"}}
    },
    {
      "data": {"name": "arcs"},
      "mark": {"type": "line", "color": "#ff9800", "strokeWidth": 2.8, "interpolate": "monotone"},
      "encoding": {"detail": {"field": "leg"}}
    },
    {
      "data": {"name": "marks"},
      "transform": [{"filter": "datum.kind == 'arrow-down'"}],
      "mark": {"type": "point", "shape": "triangle-down", "filled": true, "opacity": 1, "color": "#ff9800", "size": 120}
    },
    {
      "data": {"name": "marks"},
      "transform": [{"filter": "datum.kind == 'arrow-up'"}],
      "mark": {"type": "point", "shape": "triangle-up", "filled": true, "opacity": 1, "color": "#ff9800", "size": 120}
    },
    {
      "data": {"name": "marks"},
      "transform": [{"filter": "datum.kind == 'arrow-up-small'"}],
      "mark": {"type": "point", "shape": "triangle-up", "filled": true, "opacity": 1, "color": "#ff9800", "size": 30}
    },
    {
      "data": {"name": "marks"},
      "transform": [{"filter": "datum.kind == 'dot'"}],
      "mark": {"type": "circle", "color": "#ffffff", "opacity": 1, "size": 28}
    },
    {
      "data": {"name": "labels"},
      "transform": [{"filter": "datum.kind == 'watermark'"}],
      "mark": {"type": "text", "align": "left", "baseline": "middle", "fontSize": 11, "color": "#b2b5be"},
      "encoding": {"text": {"field": "text"}}
    },
    {
      "data": {"name": "rects"},
      "transform": [{"filter": "datum.kind == 'yellow'"}],
      "mark": {"type": "rect", "color": "#fbe32d", "stroke": "#7f7d62", "strokeWidth": 1, "cornerRadius": 2},
      "encoding": {"x2": {"field": "m2"}, "y2": {"field": "p2"}}
    },
    {
      "data": {"name": "rects"},
      "transform": [{"filter": "datum.kind == 'blue'"}],
      "mark": {"type": "rect", "color": "#0c3a68", "stroke": "#2196f3", "strokeWidth": 1.4, "cornerRadius": 3},
      "encoding": {"x2": {"field": "m2"}, "y2": {"field": "p2"}}
    },
    {
      "data": {"name": "rects"},
      "transform": [{"filter": "datum.kind == 'green'"}],
      "mark": {"type": "rect", "color": "#359a25", "cornerRadius": 3},
      "encoding": {"x2": {"field": "m2"}, "y2": {"field": "p2"}}
    },
    {
      "data": {"name": "rects"},
      "transform": [{"filter": "datum.kind == 'fail'"}],
      "mark": {"type": "rect", "color": "#7b2d30", "cornerRadius": 3},
      "encoding": {"x2": {"field": "m2"}, "y2": {"field": "p2"}}
    },
    {
      "data": {"name": "rects"},
      "transform": [{"filter": "datum.kind == 'tag'"}],
      "mark": {"type": "rect", "color": "#ef5350"},
      "encoding": {"x2": {"field": "m2"}, "y2": {"field": "p2"}}
    },
    {
      "data": {"name": "marks"},
      "transform": [{"filter": "datum.kind == 'pointer-up'"}],
      "mark": {"type": "point", "shape": "triangle-up", "filled": true, "opacity": 1, "color": "#2196f3", "size": 40}
    },
    {
      "data": {"name": "marks"},
      "transform": [{"filter": "datum.kind == 'pointer-down'"}],
      "mark": {"type": "point", "shape": "triangle-down", "filled": true, "opacity": 1, "color": "#2196f3", "size": 40}
    },
    {
      "data": {"name": "marks"},
      "transform": [{"filter": "datum.kind == 'pointer-yellow'"}],
      "mark": {"type": "point", "shape": "triangle-down", "filled": true, "opacity": 1, "color": "#fbe32d", "size": 40}
    },
    {
      "data": {"name": "labels"},
      "transform": [{"filter": "datum.kind == 'yellow-big'"}],
      "mark": {"type": "text", "align": "left", "baseline": "middle", "fontSize": 11, "color": "#4a4630"},
      "encoding": {"text": {"field": "text"}}
    },
    {
      "data": {"name": "labels"},
      "transform": [{"filter": "datum.kind == 'yellow-small'"}],
      "mark": {"type": "text", "align": "left", "baseline": "middle", "fontSize": 8.5, "color": "#4a4630"},
      "encoding": {"text": {"field": "text"}}
    },
    {
      "data": {"name": "labels"},
      "transform": [{"filter": "datum.kind == 'big'"}],
      "mark": {"type": "text", "align": "left", "baseline": "middle", "fontSize": 11.6, "color": "#e4edf5"},
      "encoding": {"text": {"field": "text"}}
    },
    {
      "data": {"name": "labels"},
      "transform": [{"filter": "datum.kind == 'small'"}],
      "mark": {"type": "text", "align": "left", "baseline": "middle", "fontSize": 9.5, "color": "#d5e0ea"},
      "encoding": {"text": {"field": "text"}}
    },
    {
      "data": {"name": "labels"},
      "transform": [{"filter": "datum.kind == 'status'"}],
      "mark": {"type": "text", "align": "center", "baseline": "middle", "fontSize": 9.5, "fontWeight": "bold", "color": "#e8f3e4"},
      "encoding": {"text": {"field": "text"}}
    },
    {
      "data": {"name": "labels"},
      "transform": [{"filter": "datum.kind == 'status-fail'"}],
      "mark": {"type": "text", "align": "center", "baseline": "middle", "fontSize": 9.5, "fontWeight": "bold", "color": "#e4c6c6"},
      "encoding": {"text": {"field": "text"}}
    },
    {
      "data": {"name": "labels"},
      "transform": [{"filter": "datum.kind == 'tag-name'"}],
      "mark": {"type": "text", "align": "center", "baseline": "middle", "fontSize": 11, "color": "#ffffff"},
      "encoding": {"text": {"field": "text"}}
    },
    {
      "data": {"name": "labels"},
      "transform": [{"filter": "datum.kind == 'tag-price'"}],
      "mark": {"type": "text", "align": "left", "baseline": "middle", "fontSize": 11, "color": "#ffffff"},
      "encoding": {"text": {"field": "text"}}
    },
    {
      "data": {"name": "labels"},
      "transform": [{"filter": "datum.kind == 'axis-first'"}],
      "mark": {"type": "text", "align": "center", "baseline": "middle", "fontSize": 11, "color": "#b2b5be"},
      "encoding": {"text": {"field": "text"}}
    },
    {
      "data": {"name": "labels"},
      "transform": [{"filter": "datum.kind == 'head-blue'"}],
      "mark": {"type": "text", "align": "left", "baseline": "middle", "font": "Lato", "fontSize": 11.1, "color": "#4fb8ea"},
      "encoding": {"text": {"field": "text"}}
    },
    {
      "data": {"name": "labels"},
      "transform": [{"filter": "datum.kind == 'head'"}],
      "mark": {"type": "text", "align": "left", "baseline": "middle", "font": "Lato", "fontSize": 11.1, "color": "#333333"},
      "encoding": {"text": {"field": "text"}}
    },
    {
      "data": {"name": "labels"},
      "transform": [{"filter": "datum.kind == 'head-bold'"}],
      "mark": {"type": "text", "align": "left", "baseline": "middle", "font": "Lato", "fontSize": 10.7, "fontWeight": "bold", "color": "#333333"},
      "encoding": {"text": {"field": "text"}}
    },
    {
      "data": {"name": "labels"},
      "transform": [{"filter": "datum.kind == 'head-green'"}],
      "mark": {"type": "text", "align": "left", "baseline": "middle", "font": "Lato", "fontSize": 11.1, "color": "#2fb52f"},
      "encoding": {"text": {"field": "text"}}
    },
    {
      "data": {"name": "headTriangle"},
      "mark": {"type": "point", "shape": "triangle-up", "filled": true, "opacity": 1, "color": "#1ea51e", "size": 90}
    },
    {
      "data": {"name": "logo"},
      "mark": {
        "type": "point",
        "filled": true,
        "opacity": 1,
        "color": "#4fb8ea",
        "size": 420,
        "shape": "M-1 0.6 Q-1 0.1 -0.55 -0.1 L-0.2 -0.6 L0.2 -0.15 L0.5 -0.5 L1 0.25 Q1 0.6 0.7 0.6 L0.35 0.6 L0.45 0.1 L0.2 0.35 L-0.2 -0.1 L-0.45 0.6 Z"
      }
    }
  ]
}
